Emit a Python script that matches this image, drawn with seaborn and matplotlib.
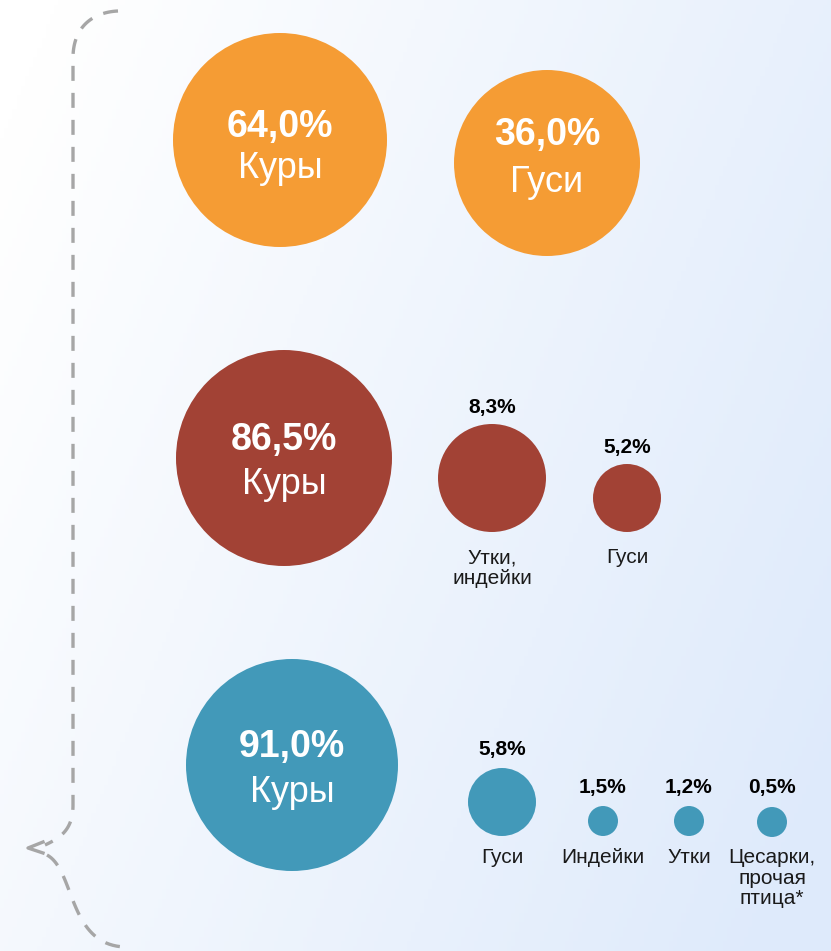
import numpy as np
import pandas as pd
import seaborn as sns
import matplotlib.pyplot as plt

# values for each bubble row (share of poultry, %)
row1_values = [64.0, 36.0]
row1_labels = ['Куры', 'Гуси']
row2_values = [86.5, 8.3, 5.2]
row2_labels = ['Куры', 'Утки,\nиндейки', 'Гуси']
row3_values = [91.0, 5.8, 1.5, 1.2, 0.5]
row3_labels = ['Куры', 'Гуси', 'Индейки', 'Утки', 'Цесарки,\nпрочая\nптица*']

# layout (pixel positions and bubble radii)
row1_x = [280, 547]
row1_y = [140, 163]
row1_r = [107, 93]
row2_x = [284, 492, 627]
row2_y = [458, 478, 498]
row2_r = [108, 54, 34]
row3_x = [292, 502, 603, 689, 772]
row3_y = [765, 802, 821, 821, 822]
row3_r = [106, 34, 15, 15, 15]
row_colors = ['#F59C34', '#A24235', '#4299B9']
row_bottom_label_y = [None, 548, 848]
# text offsets inside big bubbles (percent line, name line)
inner_offsets = {(0, 0): (-13, 28), (0, 1): (-28, 20),
                 (1, 0): (-18, 27), (2, 0): (-18, 27)}

rows = []
for i, (vals, labs, xs, ys, rs) in enumerate([
        (row1_values, row1_labels, row1_x, row1_y, row1_r),
        (row2_values, row2_labels, row2_x, row2_y, row2_r),
        (row3_values, row3_labels, row3_x, row3_y, row3_r)]):
    for j, (v, l, x, y, r) in enumerate(zip(vals, labs, xs, ys, rs)):
        rows.append({'row': i, 'idx': j, 'value': v, 'label': l,
                     'x': x, 'y': y, 'r': r})
df = pd.DataFrame(rows)

W, H = 831, 951
fig = plt.figure(figsize=(W / 100, H / 100), dpi=100)
ax = fig.add_axes([0, 0, 1, 1])
ax.set_xlim(0, W)
ax.set_ylim(H, 0)
ax.axis('off')

# background gradient (white top-left -> light blue right)
gx, gy = np.meshgrid(np.linspace(0, 1, 200), np.linspace(0, 1, 200))
t = np.clip(0.75 * gx + 0.35 * gy - 0.05, 0, 1)
c0 = np.array([1.0, 1.0, 1.0])
c1 = np.array([222, 234, 251]) / 255
grad = c0 + (c1 - c0) * t[..., None]
ax.imshow(grad, extent=[0, W, H, 0], aspect='auto', zorder=0)

# bubbles (marker size in points^2 from pixel radius)
sizes = (df['r'] * 2 * 0.72) ** 2
sns.scatterplot(data=df, x='x', y='y', hue='row', palette=row_colors,
                s=sizes, linewidth=0, legend=False, ax=ax, zorder=3)

font = 'Liberation Sans'
for _, d in df.iterrows():
    txt = f"{d['value']:.1f}%".replace('.', ',')
    key = (d['row'], d['idx'])
    if key in inner_offsets:
        o1, o2 = inner_offsets[key]
        ax.text(d['x'], d['y'] + o1, txt, color='white', fontsize=27,
                fontweight='bold', ha='center', va='center', family=font, zorder=4)
        ax.text(d['x'], d['y'] + o2, d['label'], color='white', fontsize=26,
                ha='center', va='center', family=font, zorder=4)
    else:
        top = d['y'] - d['r']
        off = 19 if d['row'] == 2 else 16
        ax.text(d['x'], top - off, txt, color='black', fontsize=15,
                fontweight='bold', ha='center', va='center', family=font, zorder=4)
        ax.text(d['x'], row_bottom_label_y[d['row']], d['label'], color='#1a1a1a',
                fontsize=15, ha='center', va='top', linespacing=1.1,
                family=font, zorder=4)


def bezier(p0, p1, p2, p3, n=40):
    s = np.linspace(0, 1, n)[:, None]
    p = [np.array(q, float) for q in (p0, p1, p2, p3)]
    return ((1 - s) ** 3 * p[0] + 3 * (1 - s) ** 2 * s * p[1]
            + 3 * (1 - s) * s ** 2 * p[2] + s ** 3 * p[3])


# dashed brace on the left
gray = '#a6a6a6'
lw = 2.4
top_curve = bezier((118, 11), (95, 12), (73, 25), (73, 58))
vertical = np.array([[73, 58], [73, 805]])
lower_curve = bezier((73, 805), (73, 830), (60, 838), (45, 845))
upper_path = np.vstack([top_curve, vertical, lower_curve])
bottom_path = bezier((47, 855), (75, 870), (68, 945), (125, 947))
for path in (upper_path, bottom_path):
    ln, = ax.plot(path[:, 0], path[:, 1], color=gray, lw=lw, zorder=2,
                  solid_capstyle='butt')
    ln.set_dashes([4.5, 3.6])
    ln.set_dash_capstyle('butt')
ax.plot([43, 28, 43], [842, 848, 853], color=gray, lw=lw, zorder=2)

fig.savefig('out.png', dpi=100)
